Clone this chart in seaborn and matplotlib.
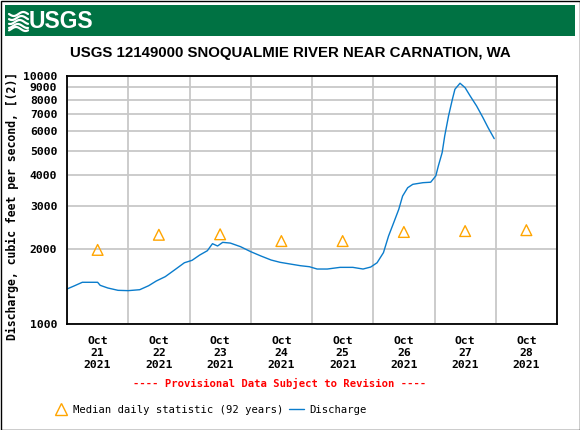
import numpy as np
import pandas as pd
import matplotlib
matplotlib.use("Agg")
import matplotlib.pyplot as plt
from matplotlib.lines import Line2D
from matplotlib.patches import Rectangle
import matplotlib.dates as mdates
import seaborn as sns

# ---- data ----
hours_since_oct21 = [0, 3, 6, 12, 13, 16, 20, 24, 28.5, 32, 35, 38.5, 42.5, 46, 49,
                     52, 55, 57, 59, 61, 64, 68, 72, 76, 80, 83.5, 87.5, 91.5, 95,
                     98, 102, 107, 112, 116, 119, 121.5, 124, 126, 128, 130, 131.5,
                     133.5, 135.5, 139.5, 142.5, 144.5, 145.5, 147, 148, 149.5, 151,
                     152, 154, 156, 158, 160.5, 163, 165, 167.4]
discharge_cfs = [1384, 1427, 1473, 1473, 1432, 1397, 1367, 1363, 1375, 1427, 1491,
                 1552, 1662, 1766, 1806, 1897, 1975, 2108, 2063, 2134, 2120, 2050,
                 1957, 1880, 1811, 1773, 1745, 1718, 1702, 1666, 1666, 1692, 1692,
                 1666, 1697, 1766, 1940, 2264, 2560, 2900, 3280, 3545, 3658, 3714,
                 3730, 3953, 4337, 4910, 5730, 6900, 8050, 8840, 9350, 8970, 8300,
                 7570, 6790, 6190, 5590]
median_dates = ["2021-10-21 12:00", "2021-10-22 12:00", "2021-10-23 12:00",
                "2021-10-24 12:00", "2021-10-25 12:00", "2021-10-26 12:00",
                "2021-10-27 12:00", "2021-10-28 12:00"]
median_cfs = [1990, 2290, 2300, 2160, 2160, 2350, 2370, 2390]
tick_labels = ["Oct\n21\n2021", "Oct\n22\n2021", "Oct\n23\n2021", "Oct\n24\n2021",
               "Oct\n25\n2021", "Oct\n26\n2021", "Oct\n27\n2021", "Oct\n28\n2021"]
y_tick_values = [1000, 2000, 3000, 4000, 5000, 6000, 7000, 8000, 9000, 10000]

title = "USGS 12149000 SNOQUALMIE RIVER NEAR CARNATION, WA"
ylabel = "Discharge, cubic feet per second, [(2)]"

# ---- frames ----
start = pd.Timestamp("2021-10-21")
df_q = pd.DataFrame({
    "time": start + pd.to_timedelta(hours_since_oct21, unit="h"),
    "q": discharge_cfs,
})
df_m = pd.DataFrame({"time": pd.to_datetime(median_dates), "q": median_cfs})

sns.set_style("white")
mono = ["DejaVu Sans Mono"]
sans = ["Liberation Sans Narrow", "Liberation Sans"]
plt.rcParams["font.family"] = mono
plt.rcParams["text.color"] = "black"
plt.rcParams["xtick.color"] = "black"
plt.rcParams["ytick.color"] = "black"
plt.rcParams["axes.labelcolor"] = "black"

W, H = 580, 430
fig = plt.figure(figsize=(W / 100, H / 100), dpi=100)
fig.patch.set_facecolor("white")

# outer border
fig.add_artist(Rectangle((0.5 / W, 0.5 / H), (W - 1) / W, (H - 1) / H,
                         transform=fig.transFigure, fill=False,
                         edgecolor="black", lw=1))
# USGS banner
fig.add_artist(Rectangle((5 / W, 1 - 36 / H), 570 / W, 31 / H,
                         transform=fig.transFigure, facecolor="#007243",
                         edgecolor="none"))
# wave logo
xs = np.linspace(9, 28, 30)
for k, y0 in enumerate([14, 18, 22, 26, 29]):
    ys = y0 + 2.0 * np.sin((xs - 9) / 19 * 2 * np.pi + k * 0.6)
    fig.add_artist(Line2D(xs / W, 1 - ys / H, transform=fig.transFigure,
                          color="white", lw=1.6))
fig.text(29 / W, 1 - 21 / H, "USGS", color="white", fontsize=16.5,
         fontweight="bold", family=sans,
         va="center", ha="left", transform=fig.transFigure)

# title
fig.text(290 / W, 1 - 53 / H, title, ha="center", va="center", fontsize=10.8,
         fontweight="bold", family=sans, color="black")

ax = fig.add_axes([67 / W, 1 - 324 / H, 490 / W, 248 / H])

sns.lineplot(data=df_q, x="time", y="q", ax=ax, color="#0a7ccc", lw=1.0,
             estimator=None, legend=False)
sns.scatterplot(data=df_m, x="time", y="q", ax=ax, marker="^", s=60,
                legend=False, zorder=3)
coll = ax.collections[-1]
coll.set_facecolor("none")
coll.set_edgecolor("#ffa500")
coll.set_linewidth(1.0)

ax.set_yscale("log")
ax.set_ylim(1000, 10000)
ax.set_xlim(pd.Timestamp("2021-10-21"), pd.Timestamp("2021-10-29"))

ax.yaxis.set_major_locator(matplotlib.ticker.FixedLocator(y_tick_values))
ax.yaxis.set_minor_locator(matplotlib.ticker.NullLocator())
ax.set_yticklabels([str(v) for v in y_tick_values])

# vertical gridlines at midnight, labels at noon
ax.xaxis.set_major_locator(matplotlib.ticker.FixedLocator(
    mdates.date2num(pd.to_datetime(median_dates))))
ax.set_xticklabels(tick_labels)
ax.xaxis.set_minor_locator(mdates.DayLocator())
ax.grid(False)
ax.grid(which="minor", axis="x", color="#c8c8c8", lw=1.3)
ax.grid(which="major", axis="y", color="#c8c8c8", lw=1.3)
ax.set_axisbelow(True)

ax.tick_params(axis="both", which="both", length=0, colors="black")
ax.tick_params(axis="x", pad=9)
ax.tick_params(axis="y", pad=7)
for lab in ax.get_xticklabels() + ax.get_yticklabels():
    lab.set_fontweight("bold")
    lab.set_fontsize(8.2)
    lab.set_family(mono)
    lab.set_color("black")

ax.set_xlabel("")
ax.set_ylabel("")
for sp in ax.spines.values():
    sp.set_visible(True)
    sp.set_color("black")
    sp.set_linewidth(1.3)

fig.text(12 / W, 1 - 206 / H, ylabel, rotation=90, ha="center", va="center",
         fontsize=8.3, fontweight="bold", family=mono, color="black")

fig.text(280 / W, 1 - 383 / H,
         "---- Provisional Data Subject to Revision ----",
         color="red", ha="center", va="center", fontsize=7.6, fontweight="bold",
         family=mono)

handles = [
    Line2D([], [], marker="^", ls="none", mfc="none", mec="#ffa500", ms=8, mew=1),
    Line2D([], [], color="#0a7ccc", lw=1),
]
leg = fig.legend(handles, ["Median daily statistic (92 years)", "Discharge"],
                 loc="center", bbox_to_anchor=(210 / W, 1 - 410 / H), ncol=2,
                 frameon=False, prop={"family": mono, "size": 7.6},
                 handlelength=1.4, handletextpad=0.5, columnspacing=0.5)
for t in leg.get_texts():
    t.set_color("black")

fig.savefig("out.png", dpi=100, facecolor="white")
